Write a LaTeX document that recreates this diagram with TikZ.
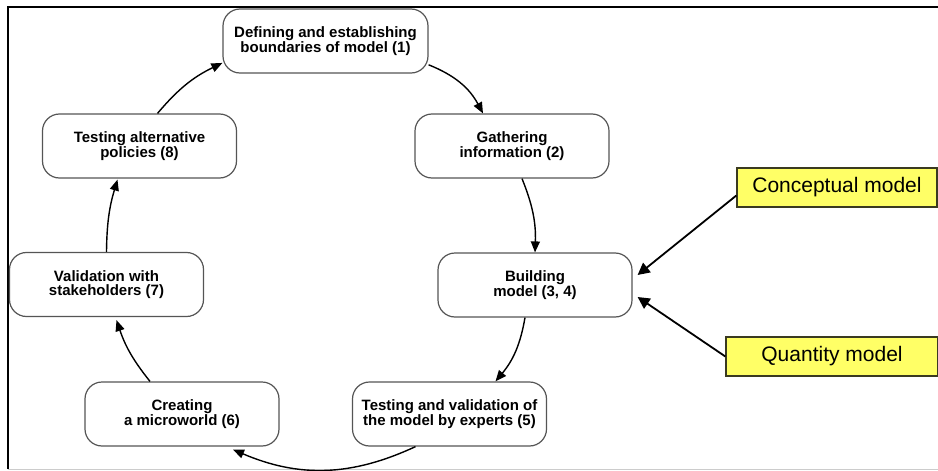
\documentclass[tikz,border=0pt]{standalone}
\usepackage{fontspec}
\setmainfont{Liberation Sans}
\usetikzlibrary{arrows.meta}
\definecolor{boxline}{HTML}{555555}
\definecolor{noteyellow}{HTML}{FFFF66}
\definecolor{noteline}{HTML}{3A3A20}
\tikzset{
  stepbox/.style={draw=boxline, line width=1.2pt, fill=white, rounded corners=17pt,
    minimum width=194pt, minimum height=64pt, align=center, inner sep=2pt,
    font=\fontsize{15}{14.5}\selectfont\bfseries},
  notebox/.style={draw=noteline, line width=1.3pt, fill=noteyellow,
    minimum height=39pt, inner sep=2pt, font=\fontsize{21}{22}\selectfont},
  cyc/.style={line width=1.4pt, -{Triangle[length=11pt,width=9pt]}},
  side/.style={line width=1.8pt, -{Triangle[length=12pt,width=12pt]}}
}
\begin{document}
\begin{tikzpicture}[x=1pt,y=-1pt]
\useasboundingbox (0,0) rectangle (938,471);
\coordinate (fa) at (8,469);
\coordinate (fb) at (8,7);
\coordinate (fc) at (938,7);
\coordinate (fd) at (938,469);
\draw[line width=1.3pt] (fa) -- (fb) -- (fc);
\draw[line width=1pt, black!20] (fa) -- (fd);

\node[stepbox, minimum width=205pt] (n1) at (325.5,41) {Defining and establishing\\boundaries of model (1)};
\node[stepbox] (n2) at (512,146) {Gathering\\information (2)};
\node[stepbox] (n3) at (535,285) {Building\\model (3, 4)};
\node[stepbox] (n5) at (449.5,414) {Testing and validation of\\the model by experts (5)};
\node[stepbox] (n6) at (182,414) {Creating\\a microworld (6)};
\node[stepbox] (n7) at (106.5,284.5) {Validation with\\stakeholders (7)};
\node[stepbox] (n8) at (139.5,146) {Testing alternative\\policies (8)};

\node[notebox, minimum width=200pt] (c) at (837,187.5) {Conceptual model};
\node[notebox, minimum width=212pt] (q) at (832,356.5) {Quantity model};

\draw[cyc] (n1.-13) to[bend left=20] ([xshift=-29pt]n2.north);
\draw[cyc] ([xshift=10pt]n2.south) to[bend left=12] (n3.north);
\draw[cyc] ([xshift=-10pt]n3.south) to[bend left=15] ([xshift=46pt]n5.north);
\draw[cyc] ([xshift=-34pt]n5.south) to[bend left=24] ([xshift=51pt,yshift=-3pt]n6.south);
\draw[cyc] ([xshift=-32pt]n6.north) to[bend left=10] ([xshift=10pt,yshift=-3pt]n7.south);
\draw[cyc] (n7.north) to[bend left=8] ([xshift=-22pt,yshift=-1pt]n8.south);
\draw[cyc] ([xshift=18pt]n8.north) to[bend left=12] (n1.192);

\draw[side] ([yshift=-8pt]c.west) -- ([xshift=5pt,yshift=10pt]n3.east);
\draw[side] (q.west) -- ([xshift=5pt,yshift=-12pt]n3.east);
\end{tikzpicture}
\end{document}
